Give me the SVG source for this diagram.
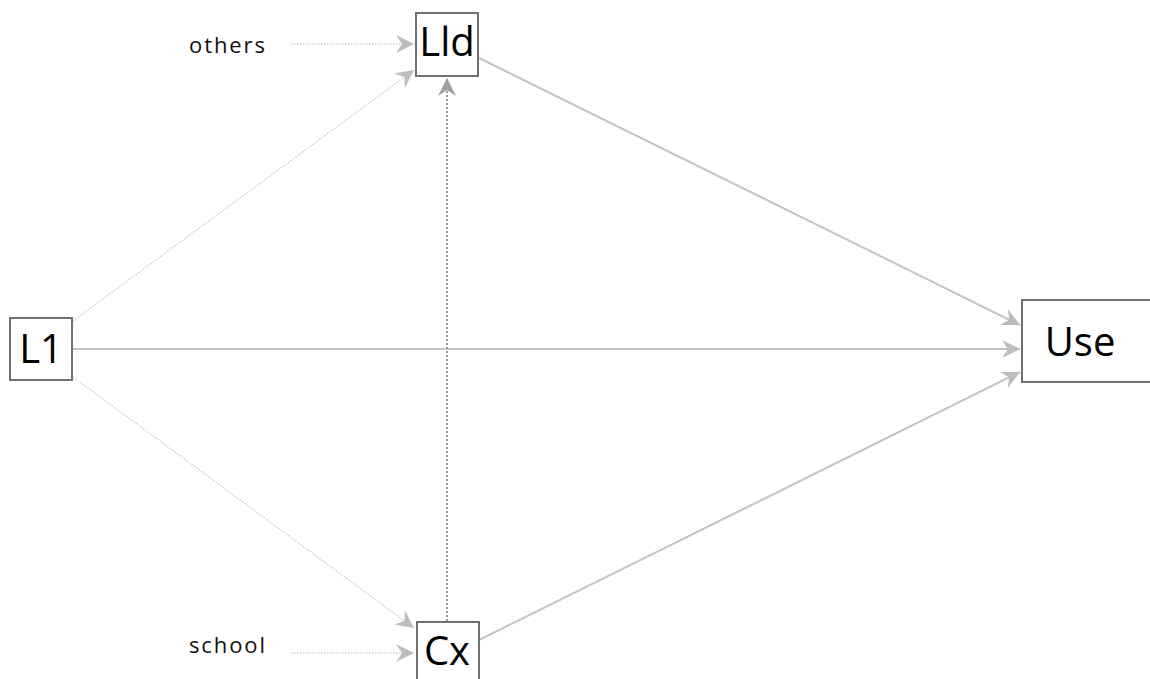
<svg xmlns="http://www.w3.org/2000/svg" width="1150" height="679" viewBox="0 0 1150 679">
<style>
.box{fill:#fff;stroke:#707070;stroke-width:2}
.lbl{font-family:"Open Sans","Liberation Sans",sans-serif;font-size:40px;fill:#000;text-anchor:middle}
.ext{font-family:"Open Sans","Liberation Sans",sans-serif;font-size:22px;fill:#111}
.solid{stroke:#c4c4c4;stroke-width:2;fill:none}
.dot{stroke:#d0d0d0;stroke-width:1.5;stroke-dasharray:1.5 1.5;fill:none}
.dotdark{stroke:#9a9a9a;stroke-width:2;stroke-dasharray:2 2;fill:none}
</style>
<defs>
<marker id="ah" markerUnits="userSpaceOnUse" markerWidth="22" markerHeight="22" refX="18" refY="9" orient="auto">
<path d="M0,0 L18,9 L0,18 L6,9 z" fill="#bdbdbd"/>
</marker>
<marker id="ahd" markerUnits="userSpaceOnUse" markerWidth="22" markerHeight="22" refX="18" refY="9" orient="auto">
<path d="M0,0 L18,9 L0,18 L6,9 z" fill="#a0a0a0"/>
</marker>
</defs>
<rect width="1150" height="679" fill="#fff"/>
<g id="connectors">
<line class="solid" x1="73" y1="349" x2="1020" y2="349" marker-end="url(#ah)"/>
<line class="dot" x1="73" y1="321" x2="414" y2="70" marker-end="url(#ah)"/>
<line class="dot" x1="73" y1="377" x2="414" y2="628" marker-end="url(#ah)"/>
<line class="solid" x1="479" y1="58" x2="1020" y2="325" marker-end="url(#ah)"/>
<line class="solid" x1="479" y1="640" x2="1020" y2="372" marker-end="url(#ah)"/>
<line class="dotdark" x1="447" y1="621" x2="447" y2="78" marker-end="url(#ahd)"/>
<line class="dot" x1="291" y1="44" x2="414" y2="44" marker-end="url(#ah)"/>
<line class="dot" x1="291" y1="653" x2="414" y2="653" marker-end="url(#ah)"/>
</g>
<g id="others"><text class="ext" x="189" y="53" textLength="76" lengthAdjust="spacing">others</text></g>
<g id="school"><text class="ext" x="189" y="653" textLength="76" lengthAdjust="spacing">school</text></g>
<g id="L1"><rect class="box" x="10" y="318" width="62" height="62"/><text class="lbl" x="41" y="363">L1</text></g>
<g id="Lld"><rect class="box" x="416" y="13" width="62" height="63"/><text class="lbl" x="447" y="56">Lld</text></g>
<g id="Cx"><rect class="box" x="417" y="622" width="62" height="63"/><text class="lbl" x="447" y="665">Cx</text></g>
<g id="Use"><rect class="box" x="1022" y="300" width="140" height="82"/><text class="lbl" x="1080" y="356">Use</text></g>
</svg>
